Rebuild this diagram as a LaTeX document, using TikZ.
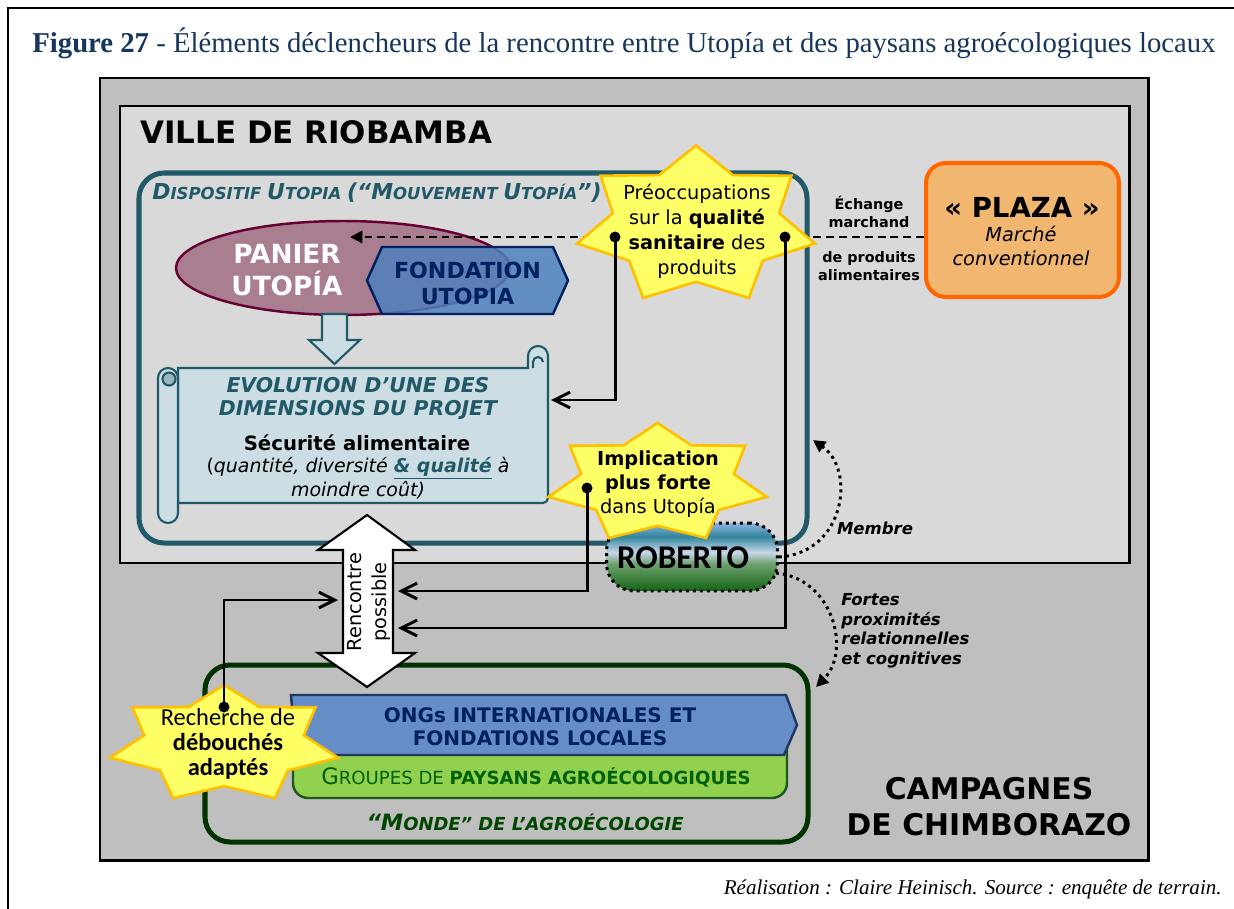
\documentclass[tikz,border=0pt]{standalone}
\usepackage{fontspec}
\setmainfont{DejaVu Sans}
\newfontfamily\titlefont{Liberation Serif}
\newfontfamily\calfont{Carlito}
\usetikzlibrary{positioning,arrows.meta,shapes.geometric}

\definecolor{navytitle}{RGB}{23,54,93}
\definecolor{cityfill}{RGB}{217,217,217}
\definecolor{ruralfill}{RGB}{191,191,191}
\definecolor{utoteal}{RGB}{33,89,104}
\definecolor{mauve}{RGB}{170,126,145}
\definecolor{maroon}{RGB}{102,0,51}
\definecolor{fondblue}{RGB}{79,129,189}
\definecolor{navy}{RGB}{0,32,96}
\definecolor{scrollfill}{RGB}{204,221,227}
\definecolor{staryellow}{RGB}{255,255,102}
\definecolor{stargold}{RGB}{255,192,0}
\definecolor{plazafill}{RGB}{241,183,112}
\definecolor{plazaline}{RGB}{255,102,0}
\definecolor{ongblue}{RGB}{102,142,198}
\definecolor{ongline}{RGB}{31,56,100}
\definecolor{paysgreen}{RGB}{146,208,80}
\definecolor{paysline}{RGB}{30,90,30}
\definecolor{paystext}{RGB}{0,97,0}
\definecolor{mondeline}{RGB}{0,51,0}
\definecolor{mondetext}{RGB}{0,70,0}
\definecolor{robgreen}{RGB}{20,100,20}
\definecolor{robmid}{RGB}{110,160,110}
\definecolor{robpale}{RGB}{200,215,235}
\definecolor{robteal}{RGB}{49,133,156}
\definecolor{robsky}{RGB}{141,180,226}

\pgfdeclareverticalshading{roberto}{100bp}{color(0bp)=(robgreen); color(25bp)=(robgreen);
  color(45bp)=(robmid); color(53.5bp)=(robpale); color(65bp)=(robteal);
  color(75bp)=(robsky); color(100bp)=(robsky)}

\newcommand{\fsz}[2]{\fontsize{#1}{#2}\selectfont}
% 7-point star: centre x, centre y, x radius, y radius
\newcommand{\starburst}[4]{%
  \draw[starbox] plot[samples at={0,...,13}, variable=\k]
    ({#1+#3*(1-0.3*mod(\k,2))*cos(90+\k*360/14)},{#2-#4*(1-0.3*mod(\k,2))*sin(90+\k*360/14)}) -- cycle;}

\begin{document}
\begin{tikzpicture}[x=0.02cm, y=-0.02cm,
  zone/.style={draw=black, line width=1.7pt},
  starbox/.style={fill=staryellow, draw=stargold, line width=1.5pt},
  txt/.style={inner sep=0pt, align=center},
  dot/.style={circle, fill=black, inner sep=0pt, minimum size=0.22cm},
  link/.style={line width=1.7pt, -{Straight Barb[length=9pt,width=9pt]}},
  tie/.style={line width=1.4pt, dash pattern=on 4.5pt off 2.8pt, -{Triangle[length=7pt,width=7pt]}},
  kin/.style={line width=1.7pt, dash pattern=on 1.7pt off 2.3pt, -{Triangle[length=7pt,width=7pt]}}
]
\useasboundingbox (0,0) rectangle (1234,909);
\fill[white] (0,0) rectangle (1234,909);
\draw[line width=1.7pt] (8,909) -- (8,8) -- (1234,8);

\node[anchor=base west, inner sep=0pt, text=navytitle, font=\titlefont\fsz{16.35}{18}] (title) at (32,53)
  {\textbf{Figure 27} - Éléments déclencheurs de la rencontre entre Utopía et des paysans agroécologiques locaux};

% city and countryside
\draw[zone, fill=ruralfill] (100,78) rectangle (1148,860);
\draw[zone, fill=cityfill] (120,106) rectangle (1129,563);
\draw[utoteal, line width=2.85pt, rounded corners=0.5cm] (139,173) rectangle (807,543);
\draw[mondeline, line width=2.85pt, rounded corners=0.5cm] (205,665) rectangle (808,842);

\node[anchor=west, txt, font=\bfseries\fsz{17.6}{20}] (ville) at (140,132) {VILLE DE RIOBAMBA};
\node[anchor=west, txt, text=utoteal, font=\bfseries\itshape] (dispositif) at (152,193)
  {\fsz{12.5}{14}D\fsz{9.4}{11}ISPOSITIF \fsz{12.5}{14}U\fsz{9.4}{11}TOPIA \fsz{12.5}{14}(“M\fsz{9.4}{11}OUVEMENT \fsz{12.5}{14}U\fsz{9.4}{11}TOPÍA\fsz{12.5}{14}”)};
\node[txt, font=\bfseries\fsz{17}{20.5}] (campagnes) at (989,807) {CAMPAGNES\\DE CHIMBORAZO};
\node[anchor=base east, inner sep=0pt, font=\titlefont\itshape\fsz{12}{14}] (credit) at (1222,894)
  {Réalisation : Claire Heinisch. Source : enquête de terrain.};

% Utopia
\node[ellipse, draw=maroon, fill=mauve, line width=1.4pt, minimum width=6.68cm, minimum height=1.88cm, inner sep=0pt] (panier) at (343,268) {};
\node[txt, text=white, font=\bfseries\fsz{15}{18.2}] (paniertxt) at (287,270) {PANIER\\UTOPÍA};
\draw[draw=navy, fill=fondblue, fill opacity=0.85, line width=1.4pt] (367,280.5) -- (382,247) -- (553,247) -- (568,280.5) -- (553,314) -- (382,314) -- cycle;
\node[txt, text=navy, font=\bfseries\fsz{12.6}{14.8}] (fondation) at (467.5,283) {FONDATION\\UTOPIA};

\draw[draw=utoteal, fill=scrollfill, line width=1.2pt] (322,314) -- (347,314) -- (347,340) -- (360,340) -- (334.5,364) -- (309,340) -- (322,340) -- cycle;

\begin{scope}[draw=utoteal, fill=scrollfill, line width=1.2pt]
  \filldraw (178,368) -- (528,368) -- (528,356) arc[start angle=180, end angle=0, radius=0.2cm]
    -- (548,498) arc[start angle=0, end angle=-90, radius=0.1cm] -- (178,503) -- cycle;
  \filldraw (158,378) arc[start angle=180, end angle=0, radius=0.2cm] -- (178,513)
    arc[start angle=0, end angle=-180, radius=0.2cm] -- cycle;
  \filldraw[fill=scrollfill!70!utoteal] (169,379) circle[radius=0.13cm];
  \draw (533,368) -- (533,362) arc[start angle=180, end angle=0, radius=0.1cm];
\end{scope}
\node[txt, text=utoteal, font=\bfseries\itshape\fsz{11.6}{13}] (evolution) at (358,398.5) {EVOLUTION D’UNE DES\\DIMENSIONS DU PROJET};
\node[txt, font=\bfseries\fsz{11.2}{13}] (securite) at (357,443) {Sécurité alimentaire};
\node[txt, font=\itshape\fsz{10.8}{12.6}] (criteres) at (358,478)
  {\textup{(}quantité, diversité \textcolor{utoteal}{\bfseries\underline{\& qualité}} à\\moindre coût)};

% market
\node[draw=plazaline, fill=plazafill, line width=2.3pt, rounded corners=0.4cm, minimum width=3.86cm, minimum height=2.68cm] (plaza) at (1022.5,230) {};
\node[txt, font=\bfseries\fsz{15.7}{18}] (plazaname) at (1022,207) {« PLAZA »};
\node[txt, font=\itshape\fsz{11}{13.7}] (plazatype) at (1021,246) {Marché\\conventionnel};
\node[txt, font=\bfseries\fsz{8.2}{10.2}] (echange) at (869,211.5) {Échange\\marchand};
\node[txt, font=\bfseries\fsz{8.2}{10.2}] (produits) at (869,266) {de produits\\alimentaires};

\coordinate (plazaOut) at (924,237);
\coordinate (panierIn) at (350,237);
\draw[tie] (plazaOut) -- (panierIn);

% agroecology world
\draw[draw=paysline, fill=paysgreen, line width=1.4pt, rounded corners=0.3cm] (293,745) -- (293,798) -- (787,798) -- (787,745);
\draw[draw=ongline, fill=ongblue, line width=1.4pt] (291,695) -- (786,695) -- (797,725) -- (784,755) -- (296,755) -- cycle;
\node[txt, text=navy, font=\bfseries\fsz{11.4}{13.2}] (ongs) at (540,726.5) {ONGs INTERNATIONALES ET\\FONDATIONS LOCALES};
\node[txt, text=paystext] (groupes) at (536,777)
  {\fsz{12.9}{14}G\fsz{10.3}{12}ROUPES DE \bfseries PAYSANS AGROÉCOLOGIQUES};
\node[txt, text=mondetext, font=\bfseries\itshape] (monde) at (525,822)
  {\fsz{12.8}{14}“M\fsz{10.2}{12}ONDE” DE L’AGROÉCOLOGIE};

\node[shade, shading=roberto, draw=black, line width=1.7pt, dash pattern=on 1.7pt off 2.3pt, rounded corners=0.55cm,
  minimum width=3.42cm, minimum height=1.36cm] (roberto) at (692,557) {};
\node[txt, font=\calfont\bfseries\fsz{18.9}{20}] (robertotxt) at (683,558) {ROBERTO};

% triggers
\starburst{696}{225.7}{122}{80.2}
\starburst{657.5}{483.5}{112}{60.5}
\starburst{224}{744.5}{117}{59.5}
\node[txt, font=\fsz{11}{14.2}] (souci) at (697,231) {Préoccupations\\sur la \textbf{qualité}\\\textbf{sanitaire} des\\produits};
\node[txt, font=\fsz{11}{13.7}] (implication) at (658,484) {\textbf{Implication}\\\textbf{plus forte}\\dans Utopía};
\node[txt, font=\calfont\fsz{13.9}{14}] (debouches) at (228,744) {Recherche de\\\textbf{débouchés}\\\textbf{adaptés}};

\node[dot] (dotA) at (615,237) {};
\node[dot] (dotB) at (785,237) {};
\node[dot] (dotC) at (587,488) {};
\node[dot] (dotD) at (224,707) {};
\coordinate (scrollIn) at (551,400);
\coordinate (meetL) at (338,600);
\coordinate (meetR1) at (398,591);
\coordinate (meetR2) at (398,628);
\draw[link] (dotA.center) |- (scrollIn);
\draw[link] (dotB.center) |- (meetR2);
\draw[link] (dotC.center) |- (meetR1);
\draw[link] (dotD.center) |- (meetL);

\draw[fill=white, line width=1.2pt] (367,515) -- (415,550) -- (393,550) -- (393,653) -- (415,653) -- (367,687)
  -- (318,653) -- (343,653) -- (343,550) -- (318,550) -- cycle;
\node[txt, rotate=90, font=\fsz{11}{14.2}] (meet) at (369,602) {Rencontre\\possible};

\coordinate (membreTip) at (813,440);
\coordinate (robSE) at (776,573);
\coordinate (mondeTip) at (816,687);
\draw[kin] (roberto.east) .. controls (845,553) and (856,470) .. (membreTip);
\draw[kin] (robSE) .. controls (832,578) and (852,650) .. (mondeTip);
\node[txt, font=\bfseries\itshape\fsz{9.4}{11.2}] (membre) at (875,528) {Membre};
\node[anchor=north west, txt, align=left, font=\bfseries\itshape\fsz{9.4}{11.2}] (proximites) at (841,593)
  {Fortes\\proximités\\relationnelles\\et cognitives};
\end{tikzpicture}
\end{document}
